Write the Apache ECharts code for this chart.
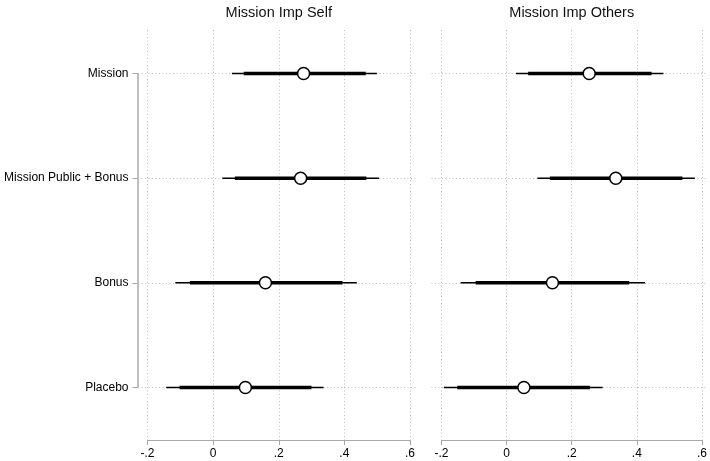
<!DOCTYPE html>
<html>
<head>
<meta charset="utf-8">
<script src="https://cdn.jsdelivr.net/npm/echarts@6/dist/echarts.min.js"></script>
<style>
html, body { margin: 0; padding: 0; background: #fff; }
#main { width: 710px; height: 461px; }
</style>
</head>
<body>
<div id="main"></div>
<script>
var groups = ['Mission', 'Mission Public + Bonus', 'Bonus', 'Placebo']
var panelTitles = ['Mission Imp Self', 'Mission Imp Others']

// Mission Imp Self
var selfEst = [0.276, 0.267, 0.160, 0.099]
var selfLo95 = [0.058, 0.029, -0.114, -0.142]
var selfHi95 = [0.499, 0.506, 0.438, 0.337]
var selfLo90 = [0.094, 0.067, -0.070, -0.101]
var selfHi90 = [0.465, 0.467, 0.394, 0.300]

// Mission Imp Others
var othEst = [0.250, 0.331, 0.138, 0.051]
var othLo95 = [0.027, 0.092, -0.142, -0.193]
var othHi95 = [0.476, 0.572, 0.420, 0.291]
var othLo90 = [0.064, 0.130, -0.096, -0.152]
var othHi90 = [0.440, 0.534, 0.372, 0.252]

var axisGray = '#a8a8a8'
var gridGray = '#bdbdbd'
var dots = [1, 2.5]

var chartDom = document.getElementById('main')
var myChart = echarts.init(chartDom)

function fmtTick (v) {
  var s = Math.abs(v).toFixed(1).replace(/\.0$/, '').replace(/^0\./, '.')
  return (v < 0 ? '-' : '') + s
}

function ciRender (width) {
  return function (params, api) {
    var a = api.coord([api.value(0), api.value(2)])
    var b = api.coord([api.value(1), api.value(2)])
    return {
      type: 'line',
      shape: { x1: a[0], y1: a[1], x2: b[0], y2: b[1] },
      style: { stroke: '#000', lineWidth: width }
    }
  }
}

function ciData (lo, hi) {
  return lo.map(function (v, i) { return [v, hi[i], i] })
}
function ptData (est) {
  return est.map(function (v, i) { return [v, i] })
}

function frameX (gi) {
  return {
    type: 'value', gridIndex: gi, min: -0.2, max: 0.6, interval: 0.2, position: 'bottom',
    axisLine: { lineStyle: { color: axisGray, width: 1 } },
    axisTick: { length: 5, lineStyle: { color: axisGray } },
    axisLabel: { color: '#000', fontSize: 12, fontFamily: 'Liberation Sans', margin: 8, formatter: fmtTick },
    splitLine: { show: true, lineStyle: { color: gridGray, type: dots, width: 1 } }
  }
}

function titleX (gi, title) {
  return {
    type: 'value', gridIndex: gi, position: 'top', min: -0.2, max: 0.6,
    name: title, nameLocation: 'middle', nameGap: 10,
    nameTextStyle: { color: '#111', fontSize: 14.5, fontFamily: 'Liberation Sans' },
    axisLine: { show: false }, axisTick: { show: false }, axisLabel: { show: false }, splitLine: { show: false }
  }
}

var option = {
  animation: false,
  grid: [
    { left: 147.5, width: 262.5, top: 22, height: 418 },
    { left: 441.5, width: 262.5, top: 22, height: 418 },
    { left: 141.5, width: 275.5, top: 73.5, height: 314 },
    { left: 431.5, width: 276.5, top: 73.5, height: 314 }
  ],
  xAxis: [
    frameX(0),
    frameX(1),
    { type: 'value', gridIndex: 2, min: -0.217, max: 0.621, show: false },
    { type: 'value', gridIndex: 3, min: -0.2305, max: 0.612, show: false },
    titleX(0, panelTitles[0]),
    titleX(1, panelTitles[1])
  ],
  yAxis: [
    { type: 'value', gridIndex: 0, show: false, min: 0, max: 1 },
    { type: 'value', gridIndex: 1, show: false, min: 0, max: 1 },
    {
      type: 'category', gridIndex: 2, data: groups, inverse: true, boundaryGap: false, offset: 4,
      axisLine: { onZero: false, lineStyle: { color: axisGray, width: 1.5 } },
      axisTick: { length: 5, lineStyle: { color: axisGray } },
      axisLabel: { color: '#000', fontSize: 12, fontFamily: 'Liberation Sans', margin: 9 },
      splitLine: { show: true, lineStyle: { color: gridGray, type: dots, width: 1 } }
    },
    {
      type: 'category', gridIndex: 3, data: groups, inverse: true, boundaryGap: false,
      axisLine: { show: false, onZero: false }, axisTick: { show: false }, axisLabel: { show: false },
      splitLine: { show: true, lineStyle: { color: gridGray, type: dots, width: 1 } }
    }
  ],
  series: [
    { type: 'custom', xAxisIndex: 2, yAxisIndex: 2, renderItem: ciRender(1.5), encode: { x: [0, 1], y: 2 }, data: ciData(selfLo95, selfHi95), z: 2 },
    { type: 'custom', xAxisIndex: 2, yAxisIndex: 2, renderItem: ciRender(3.5), encode: { x: [0, 1], y: 2 }, data: ciData(selfLo90, selfHi90), z: 3 },
    {
      type: 'scatter', xAxisIndex: 2, yAxisIndex: 2, data: ptData(selfEst), symbol: 'circle', symbolSize: 12, z: 4,
      itemStyle: { color: '#fff', opacity: 1, borderColor: '#000', borderWidth: 1.5 }
    },
    { type: 'custom', xAxisIndex: 3, yAxisIndex: 3, renderItem: ciRender(1.5), encode: { x: [0, 1], y: 2 }, data: ciData(othLo95, othHi95), z: 2 },
    { type: 'custom', xAxisIndex: 3, yAxisIndex: 3, renderItem: ciRender(3.5), encode: { x: [0, 1], y: 2 }, data: ciData(othLo90, othHi90), z: 3 },
    {
      type: 'scatter', xAxisIndex: 3, yAxisIndex: 3, data: ptData(othEst), symbol: 'circle', symbolSize: 12, z: 4,
      itemStyle: { color: '#fff', opacity: 1, borderColor: '#000', borderWidth: 1.5 }
    }
  ]
}

option && myChart.setOption(option)
</script>
</body>
</html>
